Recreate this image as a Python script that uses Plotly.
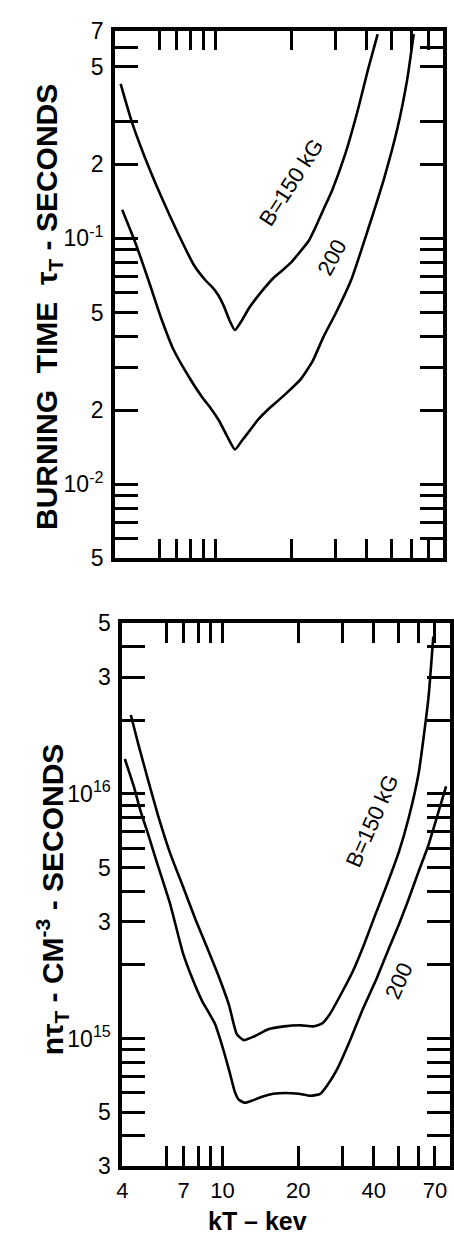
import math
import plotly.graph_objects as go

# ---------------- upper panel: burning time tau_T (s) vs kT (keV) ----------------
kt_tau_150 = [4.21, 4.67, 5.27, 6.12, 7.11, 8.26, 9.14, 9.73, 10.27, 10.84, 11.44, 11.97,
              12.75, 13.57, 14.58, 15.67, 16.99, 18.26, 19.98, 21.86, 23.49, 25.00, 26.87,
              29.13, 32.74, 36.90, 40.36, 44.16]
tau_150 = [0.4255, 0.2965, 0.2120, 0.1470, 0.1050, 0.0774, 0.0676, 0.0634, 0.0589, 0.0528,
           0.0460, 0.0424, 0.0464, 0.0518, 0.0573, 0.0628, 0.0689, 0.0734, 0.0797, 0.0890,
           0.0976, 0.1109, 0.1308, 0.1571, 0.2185, 0.3353, 0.4838, 0.677]

kt_tau_200 = [4.27, 4.82, 5.43, 6.12, 6.80, 7.92, 8.90, 9.56, 10.37, 11.14, 11.97, 12.75,
              13.57, 14.85, 16.24, 17.77, 19.27, 21.86, 24.33, 26.87, 30.20, 34.77, 40.36,
              46.90, 52.84, 57.81, 61.4]
tau_200 = [0.1308, 0.0958, 0.0676, 0.0469, 0.0356, 0.0270, 0.0225, 0.0205, 0.0181, 0.0157,
           0.01385, 0.01503, 0.01633, 0.0184, 0.0202, 0.0219, 0.0236, 0.0268, 0.0316, 0.0397,
           0.0500, 0.0684, 0.1082, 0.1765, 0.2791, 0.4414, 0.677]

# ---------------- lower panel: n*tau_T (cm^-3 s) vs kT (keV) ----------------
kt_nt_150 = [4.32, 4.64, 5.08, 5.55, 6.19, 6.96, 7.82, 8.71, 9.70, 10.61, 11.40, 12.15,
             13.41, 15.21, 17.56, 20.47, 23.01, 24.94, 26.81, 29.34, 32.97, 36.73, 40.54,
             45.16, 50.31, 55.04, 60.24, 65.91, 68.94]
nt_150 = [2.102e16, 1.580e16, 1.123e16, 8.14e15, 5.73e15, 4.19e15, 3.06e15, 2.34e15,
          1.777e15, 1.373e15, 1.042e15, 9.85e14, 1.022e15, 1.091e15, 1.121e15, 1.132e15,
          1.121e15, 1.153e15, 1.264e15, 1.492e15, 1.879e15, 2.454e15, 3.21e15, 4.27e15,
          5.79e15, 7.99e15, 1.209e16, 2.459e16, 4.40e16]

kt_nt_200 = [4.09, 4.44, 4.72, 5.08, 5.46, 6.19, 6.96, 7.61, 8.33, 8.87, 9.36, 9.79, 10.24,
             10.71, 11.20, 11.61, 12.26, 13.05, 14.28, 15.91, 17.88, 20.10, 22.39, 24.50,
             26.33, 28.55, 32.09, 36.07, 40.91, 45.98, 50.31, 55.04, 60.24, 65.91, 72.11, 77.5]
nt_200 = [1.389e16, 1.073e16, 8.52e15, 6.77e15, 5.32e15, 3.55e15, 2.239e15, 1.745e15,
          1.412e15, 1.264e15, 1.142e15, 9.94e14, 8.50e14, 7.20e14, 6.05e14, 5.62e14,
          5.46e14, 5.56e14, 5.77e14, 5.94e14, 5.99e14, 5.94e14, 5.83e14, 5.94e14, 6.51e14,
          7.47e14, 9.76e14, 1.311e15, 1.745e15, 2.344e15, 2.924e15, 3.72e15, 4.81e15,
          6.17e15, 8.36e15, 1.073e16]

# ---------------- axis ticks ----------------
kt_range = [4, 80]
kt_labelled = [4, 7, 10, 20, 40, 70]
kt_labels = ["4", "7", "10", "20", "40", "70"]
kt_long = [6, 8, 9, 30, 50, 60]
kt_short = [5, 15, 25]

tau_range = [0.005, 0.7]
tau_labelled = [0.7, 0.5, 0.2, 0.1, 0.05, 0.02, 0.01, 0.005]
tau_labels = ["7", "5", "2", "10<sup>-1</sup>", "5", "2", "10<sup>-2</sup>", "5"]
tau_long = [0.6, 0.3, 0.09, 0.08, 0.07, 0.06, 0.04, 0.03, 0.009, 0.008, 0.007, 0.006]
tau_short = [0.4, 0.25, 0.15, 0.025, 0.015]

nt_range = [3e14, 5e16]
nt_labelled = [5e16, 3e16, 1e16, 5e15, 3e15, 1e15, 5e14, 3e14]
nt_labels = ["5", "3", "10<sup>16</sup>", "5", "3", "10<sup>15</sup>", "5", "3"]
nt_long = [4e16, 2e16, 9e15, 8e15, 7e15, 6e15, 4e15, 2e15, 9e14, 8e14, 7e14, 6e14, 4e14]
nt_short = [2.5e16, 1.5e16, 2.5e15, 1.5e15]

curve_labels = ["B=150 kG", "200"]

TICK_FONT = dict(family="Liberation Sans, Arial, sans-serif", size=23, color="black")
X_TICK_FONT = dict(family="Liberation Sans, Arial, sans-serif", size=22, color="black")
TITLE_FONT = dict(family="Liberation Sans, Arial, sans-serif", size=30, color="black",
                  weight="bold")
LABEL_FONT = dict(family="Liberation Sans, Arial, sans-serif", size=22, color="black")

W, H = 454, 1244
TICK_W = 2.5


def log_range(rng):
    return [math.log10(rng[0]), math.log10(rng[1])]


def main_axis(rng, labelled, labels, long_ticks, ticklen, domain, anchor,
              show_labels=True, font=TICK_FONT, standoff=3):
    """Frame axis: labelled ticks + unlabelled ticks of the same length (as minor ticks)."""
    return dict(
        type="log", range=log_range(rng), domain=domain, anchor=anchor,
        showline=True, linewidth=4, linecolor="black", mirror="ticks",
        ticks="inside", ticklen=ticklen, tickwidth=TICK_W, tickcolor="black",
        tickmode="array", tickvals=labelled, ticktext=labels,
        showticklabels=show_labels, tickfont=font, ticklabelstandoff=standoff,
        minor=dict(ticks="inside", ticklen=ticklen, tickwidth=TICK_W, tickcolor="black",
                   tickmode="array", tickvals=long_ticks, showgrid=False),
        showgrid=False, zeroline=False, fixedrange=True,
    )


def short_tick_axis(rng, short_ticks, overlaying, anchor, side):
    """Overlay axis that only carries the short intermediate ticks."""
    return dict(
        type="log", range=log_range(rng), overlaying=overlaying, anchor=anchor, side=side,
        showline=True, linewidth=4, linecolor="black", mirror="ticks",
        ticks="inside", ticklen=10, tickwidth=TICK_W, tickcolor="black",
        tickmode="array", tickvals=short_ticks, showticklabels=False,
        showgrid=False, zeroline=False, fixedrange=True,
    )


line_style = dict(color="black", width=2.6, shape="spline", smoothing=0.5)

fig = go.Figure()
for xs, ys, xa, ya in [(kt_tau_150, tau_150, "x", "y"), (kt_tau_200, tau_200, "x", "y"),
                       (kt_nt_150, nt_150, "x2", "y2"), (kt_nt_200, nt_200, "x2", "y2")]:
    fig.add_trace(go.Scatter(x=xs, y=ys, mode="lines", line=line_style, xaxis=xa, yaxis=ya,
                             showlegend=False, hoverinfo="skip"))

top_x_dom = [111 / W, 444.5 / W]
top_y_dom = [1 - 557 / H, 1 - 18 / H]
bot_x_dom = [118.5 / W, 451.5 / W]
bot_y_dom = [1 - 1178 / H, 1 - 623 / H]

fig.update_layout(
    width=W, height=H,
    margin=dict(l=0, r=0, t=0, b=0),
    paper_bgcolor="white", plot_bgcolor="white",
    xaxis=main_axis(kt_range, kt_labelled, kt_labels, kt_long, 19, top_x_dom, "y",
                    show_labels=False),
    yaxis=main_axis(tau_range, tau_labelled, tau_labels, tau_long, 23, top_y_dom, "x"),
    xaxis2=main_axis(kt_range, kt_labelled, kt_labels, kt_long, 20, bot_x_dom, "y2",
                     font=X_TICK_FONT, standoff=1),
    yaxis2=main_axis(nt_range, nt_labelled, nt_labels, nt_long, 23, bot_y_dom, "x2"),
    xaxis3=short_tick_axis(kt_range, kt_short, "x", "y", "bottom"),
    yaxis3=short_tick_axis(tau_range, tau_short, "y", "x", "left"),
    xaxis4=short_tick_axis(kt_range, kt_short, "x2", "y2", "bottom"),
    yaxis4=short_tick_axis(nt_range, nt_short, "y2", "x2", "left"),
)

annotations = [
    # axis titles
    dict(text="BURNING\u00a0\u00a0TIME\u00a0\u00a0\u03c4<sub>T</sub> - SECONDS",
         xref="paper", yref="paper", x=43 / W, y=1 - 300 / H, textangle=-90,
         showarrow=False, xanchor="center", yanchor="middle", font=TITLE_FONT),
    dict(text="n\u03c4<sub>T</sub> - CM<sup>-3</sup> - SECONDS",
         xref="paper", yref="paper", x=47 / W, y=1 - 905 / H, textangle=-90,
         showarrow=False, xanchor="center", yanchor="middle", font=TITLE_FONT),
    dict(text="kT\u00a0\u2013\u00a0kev", xref="paper", yref="paper", x=256 / W, y=1 - 1234 / H,
         showarrow=False, xanchor="center", yanchor="middle",
         font=dict(family="Liberation Sans, Arial, sans-serif", size=25, color="black",
                   weight="bold")),
    # curve labels
    dict(text=curve_labels[0], xref="x", yref="y", x=math.log10(20.0), y=math.log10(0.169),
         textangle=-57, showarrow=False, font=LABEL_FONT),
    dict(text=curve_labels[1], xref="x", yref="y", x=math.log10(29.1), y=math.log10(0.0834),
         textangle=-62, showarrow=False, font=LABEL_FONT),
    dict(text=curve_labels[0], xref="x2", yref="y2", x=math.log10(39.5), y=math.log10(7.77e15),
         textangle=-66, showarrow=False, font=LABEL_FONT),
    dict(text=curve_labels[1], xref="x2", yref="y2", x=math.log10(50.3), y=math.log10(1.73e15),
         textangle=-66, showarrow=False, font=LABEL_FONT),
]
fig.update_layout(annotations=annotations)

fig.write_html("out.html")
